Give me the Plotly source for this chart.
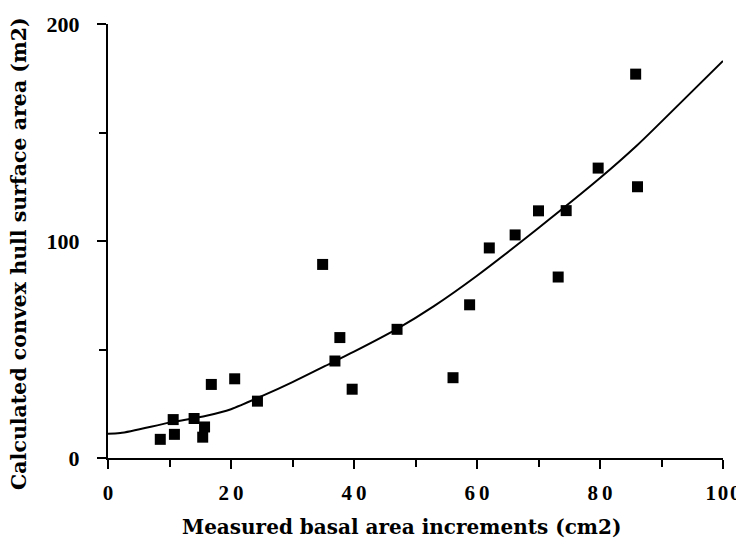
import plotly.graph_objects as go

# Scatter data
basal_area = [8.5, 10.6, 10.8, 14.0, 15.4, 15.7, 16.8, 20.6, 24.3, 34.9, 36.9, 37.7,
              39.7, 47.0, 56.1, 58.8, 62.0, 66.2, 70.0, 73.2, 74.5, 79.7, 85.8, 86.1]
hull_area = [8.6, 17.7, 10.9, 18.2, 9.6, 14.3, 33.9, 36.5, 26.2, 89.2, 44.7, 55.5,
             31.7, 59.3, 37.0, 70.6, 96.8, 102.8, 113.9, 83.4, 114.0, 133.6, 176.9, 125.0]

# Fitted curve as drawn
curve_x = [0, 2, 10, 16, 20, 25, 30, 35, 40, 47, 53, 60, 70, 80, 86, 90, 100]
curve_y = [11.2, 11.5, 16.3, 19.5, 22.5, 28.5, 35, 42, 49, 59.5, 70, 84, 106, 129, 144, 155, 183]

x_tickvals = [0, 20, 40, 60, 80, 100]
x_ticktext = ["0", "2\u20090", "4\u20090", "6\u20090", "8\u20090", "1\u200a0\u200a0"]
y_tickvals = [0, 100, 200]
y_ticktext = ["0", "100", "200"]

x_title = "Measured basal area increments (cm2)"
y_title = "Calculated convex hull surface area (m2)"

tick_family = "Liberation Serif, Times New Roman, serif"
title_family = "DejaVu Serif, serif"

fig = go.Figure()
fig.add_trace(go.Scatter(
    x=curve_x, y=curve_y, mode="lines",
    line=dict(color="black", width=2, shape="spline", smoothing=0.8),
    hoverinfo="skip", showlegend=False))
fig.add_trace(go.Scatter(
    x=basal_area, y=hull_area, mode="markers",
    marker=dict(symbol="square", size=11, color="black"),
    showlegend=False))

fig.update_layout(
    width=744, height=548,
    margin=dict(l=100, r=29, t=16, b=98, autoexpand=False),
    plot_bgcolor="white", paper_bgcolor="white",
    font=dict(family=tick_family, color="black"),
)
fig.update_xaxes(
    range=[0, 100], showgrid=False, zeroline=False, automargin=False,
    showline=True, linecolor="black", linewidth=2,
    ticks="outside", ticklen=9, tickwidth=2, tickcolor="black",
    tickvals=x_tickvals, ticktext=x_ticktext, ticklabelstandoff=6,
    minor=dict(dtick=10, ticks="outside", ticklen=7, tickwidth=1.5, tickcolor="black"),
    tickfont=dict(family=tick_family, size=21, color="black", weight="bold"),
)
fig.update_yaxes(
    range=[0, 200], showgrid=False, zeroline=False, automargin=False,
    showline=True, linecolor="black", linewidth=2,
    ticks="outside", ticklen=9, tickwidth=2, tickcolor="black",
    tickvals=y_tickvals, ticktext=y_ticktext, ticklabelstandoff=13,
    minor=dict(dtick=50, ticks="outside", ticklen=7, tickwidth=1.5, tickcolor="black"),
    tickfont=dict(family=tick_family, size=22, color="black", weight="bold"),
)
fig.add_annotation(
    text="<b>" + x_title + "</b>", xref="paper", yref="paper",
    x=0.478, y=-0.159, xanchor="center", yanchor="middle", showarrow=False,
    font=dict(family=title_family, size=20, color="black"))
fig.add_annotation(
    text="<b>" + y_title + "</b>", xref="paper", yref="paper",
    x=-0.145, y=0.472, xanchor="center", yanchor="middle", showarrow=False,
    textangle=-90, font=dict(family=title_family, size=20.5, color="black"))

fig.write_html("out.html")
